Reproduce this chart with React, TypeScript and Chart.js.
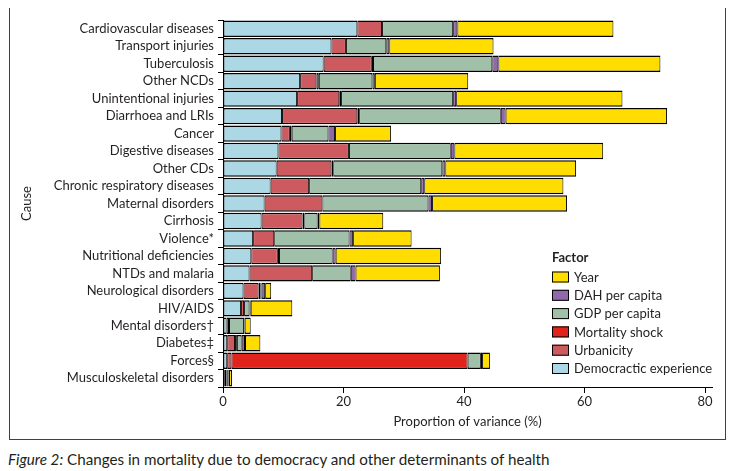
import React, { useEffect, useRef } from "react";
import { Chart, registerables } from "chart.js";

Chart.register(...registerables);

const causes = [
  "Cardiovascular diseases",
  "Transport injuries",
  "Tuberculosis",
  "Other NCDs",
  "Unintentional injuries",
  "Diarrhoea and LRIs",
  "Cancer",
  "Digestive diseases",
  "Other CDs",
  "Chronic respiratory diseases",
  "Maternal disorders",
  "Cirrhosis",
  "Violence*",
  "Nutritional deficiencies",
  "NTDs and malaria",
  "Neurological disorders",
  "HIV/AIDS",
  "Mental disorders\u2020",
  "Diabetes\u2021",
  "Forces\u00a7",
  "Musculoskeletal disorders",
];

const democraticExperience = [22.3, 18.0, 16.7, 12.8, 12.3, 9.8, 9.7, 9.2, 8.9, 7.9, 6.9, 6.4, 5.0, 4.7, 4.4, 3.4, 3.0, 0.6, 0.7, 0.7, 0.3];
const urbanicity = [4.1, 2.4, 8.0, 2.7, 7.0, 12.5, 1.4, 11.7, 9.1, 6.4, 9.6, 6.8, 3.5, 4.4, 10.4, 2.5, 0.5, 0.4, 1.3, 0.7, 0.3];
const mortalityShock = [0, 0, 0.2, 0.4, 0.3, 0.3, 0.3, 0, 0.3, 0, 0, 0.3, 0, 0.2, 0, 0.3, 0, 0, 0.3, 39.2, 0.1];
const gdpPerCapita = [11.8, 6.7, 19.8, 8.9, 18.6, 23.5, 6.1, 16.9, 18.1, 18.6, 17.6, 2.2, 12.5, 8.9, 6.4, 0.2, 0.9, 2.5, 0.8, 2.2, 0.2];
const dahPerCapita = [0.7, 0.5, 1.0, 0.4, 0.5, 0.8, 1.1, 0.6, 0.5, 0.5, 0.6, 0.3, 0.6, 0.5, 0.8, 0.6, 0.2, 0.1, 0.55, 0.2, 0.1];
const yearFactor = [25.9, 17.3, 26.9, 15.5, 27.6, 26.8, 9.3, 24.7, 21.7, 23.1, 22.4, 10.6, 9.7, 17.5, 14.0, 1.0, 6.9, 1.0, 2.55, 1.3, 0.5];

const xTickValues = [0, 20, 40, 60, 80];

const TEXT = "#231f20";
const FONT = "Lato, 'Open Sans', sans-serif";

const factorLegend = {
  id: "factorLegend",
  afterDraw(chart: any) {
    const ctx = chart.ctx as CanvasRenderingContext2D;
    ctx.save();
    const x0 = 544;
    const y0 = 250;
    ctx.textBaseline = "middle";
    ctx.textAlign = "left";
    ctx.fillStyle = TEXT;
    ctx.font = `bold 13px ${FONT}`;
    ctx.fillText("Factor", x0, y0);
    const ds = chart.data.datasets.slice().reverse();
    ds.forEach((d: any, i: number) => {
      const cy = y0 + 19 + i * 18.3;
      ctx.fillStyle = d.backgroundColor;
      ctx.fillRect(x0, cy - 5.5, 17, 11);
      ctx.strokeStyle = "#000";
      ctx.lineWidth = 1;
      ctx.strokeRect(x0 + 0.5, cy - 5, 16, 10);
      ctx.font = `13px ${FONT}`;
      ctx.fillStyle = TEXT;
      ctx.fillText(d.label, x0 + 22, cy + 0.5);
    });
    ctx.restore();
  },
};

export default function App() {
  const ref = useRef<HTMLCanvasElement>(null);

  useEffect(() => {
    if (!ref.current) return;
    const mk = (label: string, data: number[], color: string) => ({
      label,
      data,
      backgroundColor: color,
      borderColor: "#000",
      borderWidth: { top: 1.5, bottom: 1.5, left: 1, right: 1 },
      borderSkipped: false,
      barPercentage: 0.94,
      categoryPercentage: 1,
    });
    const chart = new Chart(ref.current, {
      type: "bar",
      data: {
        labels: causes,
        datasets: [
          mk("Democractic experience", democraticExperience, "#acd8e6"),
          mk("Urbanicity", urbanicity, "#cd5a5f"),
          mk("Mortality shock", mortalityShock, "#e0231b"),
          mk("GDP per capita", gdpPerCapita, "#a0c0aa"),
          mk("DAH per capita", dahPerCapita, "#9169aa"),
          mk("Year", yearFactor, "#ffdd00"),
        ] as any,
      },
      options: {
        indexAxis: "y",
        responsive: false,
        animation: false,
        layout: { padding: { left: 11, right: 16, top: 12, bottom: 14 } },
        plugins: {
          legend: { display: false },
          tooltip: { enabled: false },
        },
        scales: {
          x: {
            stacked: true,
            min: 0,
            max: 81.16,
            afterBuildTicks: (scale: any) => {
              scale.ticks = xTickValues.map((v) => ({ value: v }));
            },
            afterFit: (scale: any) => {
              scale.height = 43;
            },
            grid: { drawOnChartArea: false, drawTicks: true, tickLength: 6, color: "#000" },
            border: { display: true, color: "#000", width: 1 },
            ticks: { color: TEXT, font: { family: FONT, size: 13 }, padding: 1, maxRotation: 0 },
            title: {
              display: true,
              text: "Proportion of variance (%)",
              color: TEXT,
              font: { family: FONT, size: 13 },
              padding: 0,
            },
          },
          y: {
            stacked: true,
            offset: true,
            afterFit: (scale: any) => {
              scale.width = 204;
            },
            grid: { offset: true, drawOnChartArea: false, drawTicks: true, tickLength: 5, color: "#000" },
            border: { display: true, color: "#000", width: 1 },
            ticks: { color: TEXT, font: { family: FONT, size: 13 }, padding: 4, autoSkip: false },
            title: {
              display: true,
              text: "Cause",
              color: TEXT,
              font: { family: FONT, size: 13 },
              padding: 0,
            },
          },
        },
      } as any,
      plugins: [factorLegend],
    });
    return () => chart.destroy();
  }, []);

  return (
    <div style={{ position: "relative", width: 720, height: 463, fontFamily: FONT }}>
      <div
        style={{
          position: "absolute",
          left: 1,
          top: -2,
          width: 717,
          height: 434,
          border: "1px solid #7b1f4b",
          boxSizing: "border-box",
        }}
      />
      <canvas
        ref={ref}
        width={720}
        height={436}
        style={{ position: "absolute", left: 0, top: 0, width: 720, height: 436 }}
      />
      <div
        style={{
          position: "absolute",
          left: 0,
          top: 441,
          fontSize: 15.2,
          color: TEXT,
          whiteSpace: "nowrap",
          lineHeight: "20px",
        }}
      >
        <i>Figure 2:</i> Changes in mortality due to democracy and other determinants of health
      </div>
    </div>
  );
}
